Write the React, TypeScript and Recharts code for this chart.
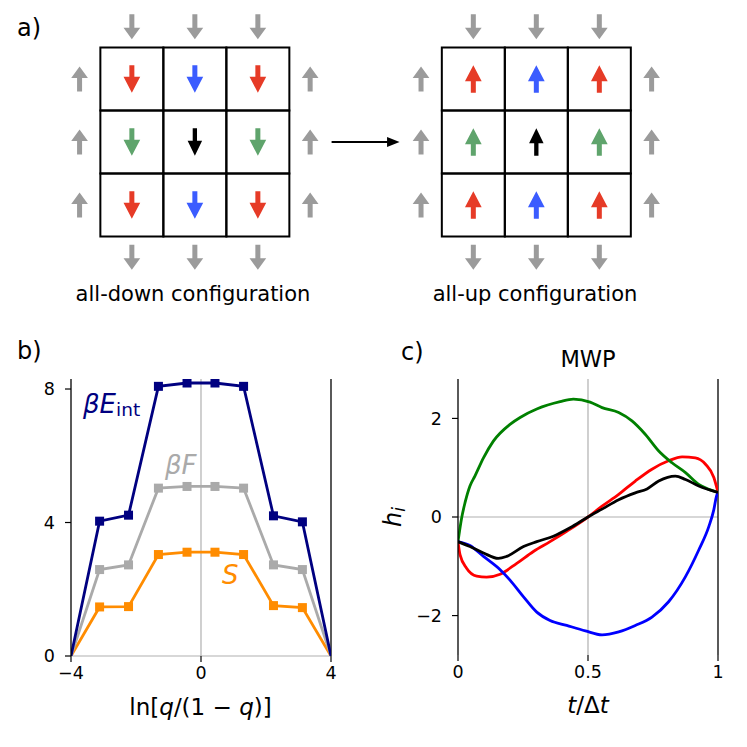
import React from 'react';
import {
  ScatterChart,
  Scatter,
  LineChart,
  Line,
  XAxis,
  YAxis,
  ReferenceArea,
  ReferenceLine,
} from 'recharts';

const FONT = '"DejaVu Sans", sans-serif';

// ---- panel a: two 3x3 lattices, coordinates in cell units ----
const latticeCentres = [0, 5.42];
const latticeSpins = [-1, 1]; // -1 = down, 1 = up
const latticeCaptions = ['all-down configuration', 'all-up configuration'];
const cellOffsets = [-1, 0, 1];
const cellColours = [
  ['#e63b27', '#3b5cff', '#e63b27'],
  ['#5fa46c', '#000000', '#5fa46c'],
  ['#e63b27', '#3b5cff', '#e63b27'],
];
const haloColour = '#9b9b9b';
const haloDistance = 1.83;
const transitionArrowAt = [{ x: 2.71, y: 0 }];

// ---- panel b ----
const logitQ = [-4, -3.12, -2.23, -1.31, -0.43, 0.43, 1.31, 2.23, 3.12, 4];
const betaEint = [0, 4.04, 4.22, 8.08, 8.18, 8.18, 8.08, 4.2, 4.02, 0];
const betaF = [0, 2.59, 2.73, 5.03, 5.08, 5.08, 5.03, 2.73, 2.59, 0];
const entropyS = [0, 1.47, 1.48, 3.04, 3.11, 3.11, 3.04, 1.51, 1.45, 0];

// ---- panel c (MWP) ----
const greenT = [0, 0.014, 0.027, 0.046, 0.065, 0.098, 0.136, 0.2, 0.239, 0.303, 0.393, 0.444, 0.508, 0.554, 0.618, 0.669, 0.72, 0.772, 0.823, 0.875, 0.926, 0.965, 1];
const greenH = [-0.5, -0.02, 0.29, 0.63, 0.83, 1.2, 1.54, 1.88, 2.02, 2.19, 2.34, 2.39, 2.33, 2.22, 2.12, 1.95, 1.68, 1.34, 1.1, 0.9, 0.66, 0.56, 0.5];
const redT = [0, 0.008, 0.033, 0.072, 0.11, 0.162, 0.226, 0.29, 0.354, 0.418, 0.5, 0.554, 0.618, 0.682, 0.746, 0.81, 0.862, 0.913, 0.952, 0.984, 1];
const redH = [-0.5, -0.77, -1.04, -1.2, -1.22, -1.16, -0.94, -0.7, -0.5, -0.29, 0, 0.22, 0.46, 0.73, 0.97, 1.14, 1.22, 1.2, 1.07, 0.8, 0.5];
const blueT = [0, 0.046, 0.098, 0.162, 0.2, 0.252, 0.303, 0.354, 0.418, 0.49, 0.554, 0.618, 0.682, 0.746, 0.81, 0.875, 0.926, 0.965, 0.984, 0.994, 1];
const blueH = [-0.5, -0.58, -0.8, -1.07, -1.28, -1.62, -1.93, -2.1, -2.2, -2.31, -2.39, -2.33, -2.2, -2.03, -1.72, -1.21, -0.67, -0.19, 0.15, 0.42, 0.5];
const blackT = [0, 0.046, 0.098, 0.155, 0.187, 0.252, 0.303, 0.367, 0.431, 0.5, 0.554, 0.618, 0.682, 0.727, 0.772, 0.836, 0.875, 0.926, 1];
const blackH = [-0.5, -0.6, -0.73, -0.84, -0.8, -0.6, -0.5, -0.39, -0.22, 0, 0.16, 0.35, 0.49, 0.57, 0.73, 0.83, 0.76, 0.63, 0.5];

const zip = (xs: number[], ys: number[]) => xs.map((x, i) => ({ x, y: ys[i] }));
const minus = (v: number) => (v < 0 ? '\u2212' + Math.abs(v) : String(v));

// build lattice marks from the arrays above
const cells: { x: number; y: number }[] = [];
const spinArrows: any[] = [];
const haloArrows: any[] = [];
latticeCentres.forEach((cx, li) => {
  cellOffsets.forEach((dy, r) => {
    cellOffsets.forEach((dx, c) => {
      const colour = cellColours[r][c];
      cells.push({ x: cx + dx, y: -dy });
      spinArrows.push({ x: cx + dx, y: -dy, dir: latticeSpins[li], colour, small: colour === '#000000' });
    });
  });
  cellOffsets.forEach((d) => {
    haloArrows.push({ x: cx + d, y: haloDistance, dir: -1, colour: haloColour });
    haloArrows.push({ x: cx + d, y: -haloDistance, dir: -1, colour: haloColour });
    haloArrows.push({ x: cx - haloDistance, y: d, dir: 1, colour: haloColour });
    haloArrows.push({ x: cx + haloDistance, y: d, dir: 1, colour: haloColour });
  });
});

const SpinArrow = (props: any) => {
  const { cx, cy, payload } = props;
  const halo = payload.colour === haloColour;
  const len = halo ? 25 : 27.5;
  const headLen = halo ? 11.5 : payload.small ? 15 : 16;
  const headW = payload.small ? 14.5 : 16.7;
  const shaft = payload.small ? 4.3 : 5;
  const s = payload.dir; // 1 up, -1 down
  const tip = cy - (s * len) / 2;
  const tail = cy + (s * len) / 2;
  const base = tip + s * headLen;
  const d = `M${cx - shaft / 2},${tail} L${cx - shaft / 2},${base} L${cx - headW / 2},${base} L${cx},${tip} L${cx + headW / 2},${base} L${cx + shaft / 2},${base} L${cx + shaft / 2},${tail} Z`;
  return <path d={d} fill={payload.colour} />;
};

const TransitionArrow = (props: any) => {
  const { cx, cy } = props;
  const half = 34;
  return (
    <g>
      <line x1={cx - half} y1={cy} x2={cx + half - 10} y2={cy} stroke="#000" strokeWidth={2} />
      <path d={`M${cx + half},${cy} L${cx + half - 12.5},${cy - 5} L${cx + half - 12.5},${cy + 5} Z`} fill="#000" />
    </g>
  );
};

const SquareDot = (colour: string, last: number) => (p: any) => {
  if (p.index === 0 || p.index === last) return <g key={`d${p.index}`} />;
  return <rect key={`d${p.index}`} x={p.cx - 4.5} y={p.cy - 4.5} width={9} height={9} fill={colour} />;
};

// tick labels drawn explicitly so the font size is exact
const XTick = (p: any) => (
  <text x={p.x} y={p.y + 12.5} textAnchor="middle" fontSize={17.5} fontFamily={FONT} fill="#000">
    {minus(p.payload.value)}
  </text>
);
const YTick = (p: any) => (
  <text x={p.x} y={p.y + 6.2} textAnchor="end" fontSize={17.5} fontFamily={FONT} fill="#000">
    {minus(p.payload.value)}
  </text>
);

const tickLine = { stroke: '#000', strokeWidth: 1.2 };

const PanelA: React.FC = () => (
  <ScatterChart width={747} height={310} margin={{ top: 0, right: 0, bottom: 0, left: 0 }}>
    <XAxis type="number" dataKey="x" domain={[-3.093, 8.764]} hide allowDataOverflow />
    <YAxis type="number" dataKey="y" domain={[-2.667, 2.254]} hide allowDataOverflow />
    {cells.map((c, i) => (
      <ReferenceArea
        key={i}
        x1={c.x - 0.5}
        x2={c.x + 0.5}
        y1={c.y - 0.5}
        y2={c.y + 0.5}
        fill="none"
        fillOpacity={0}
        stroke="#000"
        strokeWidth={2}
      />
    ))}
    <Scatter data={haloArrows} shape={SpinArrow} isAnimationActive={false} />
    <Scatter data={spinArrows} shape={SpinArrow} isAnimationActive={false} />
    <Scatter data={transitionArrowAt} shape={TransitionArrow} isAnimationActive={false} />
  </ScatterChart>
);

const PanelB: React.FC = () => {
  const last = logitQ.length - 1;
  return (
    <LineChart width={370} height={417} margin={{ top: 49, right: 39, bottom: 61, left: 0 }}>
      <XAxis
        type="number"
        dataKey="x"
        domain={[-4, 4]}
        ticks={[-4, 0, 4]}
        axisLine={false}
        tickLine={tickLine}
        tickSize={6}
        tickMargin={4}
        tick={XTick}
        height={30}
        allowDataOverflow
      />
      <YAxis
        type="number"
        domain={[0, 8.3]}
        ticks={[0, 4, 8]}
        width={71}
        axisLine={{ stroke: '#000', strokeWidth: 1.3 }}
        tickLine={tickLine}
        tickSize={6}
        tickMargin={10}
        tick={YTick}
        allowDataOverflow
      />
      <ReferenceLine x={0} stroke="#b0b0b0" strokeWidth={1.2} />
      <ReferenceLine y={0} stroke="#b0b0b0" strokeWidth={1.2} />
      <ReferenceLine x={4} stroke="#000" strokeWidth={1.3} />
      <Line data={zip(logitQ, entropyS)} dataKey="y" stroke="#ff8c00" strokeWidth={2.8} dot={SquareDot('#ff8c00', last)} activeDot={false} isAnimationActive={false} />
      <Line data={zip(logitQ, betaF)} dataKey="y" stroke="#aaaaaa" strokeWidth={2.8} dot={SquareDot('#aaaaaa', last)} activeDot={false} isAnimationActive={false} />
      <Line data={zip(logitQ, betaEint)} dataKey="y" stroke="#000080" strokeWidth={2.8} dot={SquareDot('#000080', last)} activeDot={false} isAnimationActive={false} />
    </LineChart>
  );
};

const PanelC: React.FC = () => (
  <LineChart width={377} height={417} margin={{ top: 49, right: 29, bottom: 62, left: 0 }}>
    <XAxis
      type="number"
      dataKey="x"
      domain={[0, 1]}
      ticks={[0, 0.5, 1]}
      axisLine={false}
      tickLine={tickLine}
      tickSize={6}
      tickMargin={4}
      tick={XTick}
      height={30}
      allowDataOverflow
    />
    <YAxis
      type="number"
      domain={[-2.8, 2.8]}
      ticks={[-2, 0, 2]}
      width={88}
      axisLine={{ stroke: '#000', strokeWidth: 1.3 }}
      tickLine={tickLine}
      tickSize={6}
      tickMargin={10}
      tick={YTick}
      allowDataOverflow
    />
    <ReferenceLine x={0.5} stroke="#b0b0b0" strokeWidth={1.2} />
    <ReferenceLine y={0} stroke="#b0b0b0" strokeWidth={1.2} />
    <ReferenceLine x={1} stroke="#000" strokeWidth={1.3} />
    <Line data={zip(redT, redH)} dataKey="y" type="monotone" stroke="#ff0000" strokeWidth={2.8} dot={false} activeDot={false} isAnimationActive={false} />
    <Line data={zip(greenT, greenH)} dataKey="y" type="monotone" stroke="#008000" strokeWidth={2.8} dot={false} activeDot={false} isAnimationActive={false} />
    <Line data={zip(blueT, blueH)} dataKey="y" type="monotone" stroke="#0000ff" strokeWidth={2.8} dot={false} activeDot={false} isAnimationActive={false} />
    <Line data={zip(blackT, blackH)} dataKey="y" type="monotone" stroke="#000000" strokeWidth={2.8} dot={false} activeDot={false} isAnimationActive={false} />
  </LineChart>
);

// text annotations on top of the three panels
const Annotations: React.FC = () => (
  <svg width={747} height={747} style={{ position: 'absolute', left: 0, top: 0, pointerEvents: 'none' }} fontFamily={FONT}>
    <text x={17} y={36} fontSize={24}>a)</text>
    <text x={17} y={359} fontSize={24}>b)</text>
    <text x={401} y={360} fontSize={24}>c)</text>
    <text x={193} y={301} fontSize={21} textAnchor="middle">{latticeCaptions[0]}</text>
    <text x={535} y={301} fontSize={21} textAnchor="middle">{latticeCaptions[1]}</text>

    <text x={83} y={413} fontSize={26} fill="#000080">
      <tspan fontStyle="italic">βE</tspan>
      <tspan fontSize={18.5} dy={3}>int</tspan>
    </text>
    <text x={165} y={474} fontSize={26} fill="#aaaaaa" fontStyle="italic">βF</text>
    <text x={222} y={584} fontSize={26} fill="#ff8c00" fontStyle="italic">S</text>
    <text x={200.5} y={715} fontSize={23} textAnchor="middle">
      ln[<tspan fontStyle="italic">q</tspan>/(1 − <tspan fontStyle="italic">q</tspan>)]
    </text>

    <text x={588} y={367} fontSize={22.5} textAnchor="middle">MWP</text>
    <text transform="translate(401,517) rotate(-90)" fontSize={24} textAnchor="middle" fontStyle="italic">
      h<tspan fontSize={17} dy={4}>i</tspan>
    </text>
    <text x={588} y={713} fontSize={23} textAnchor="middle">
      <tspan fontStyle="italic">t</tspan>/Δ<tspan fontStyle="italic">t</tspan>
    </text>
  </svg>
);

const App: React.FC = () => (
  <div style={{ position: 'absolute', left: 0, top: 0, width: 747, height: 747, background: '#fff', fontFamily: FONT }}>
    <div style={{ position: 'absolute', left: 0, top: 0 }}>
      <PanelA />
    </div>
    <div style={{ position: 'absolute', left: 0, top: 330 }}>
      <PanelB />
    </div>
    <div style={{ position: 'absolute', left: 370, top: 330 }}>
      <PanelC />
    </div>
    <Annotations />
  </div>
);

export default App;
